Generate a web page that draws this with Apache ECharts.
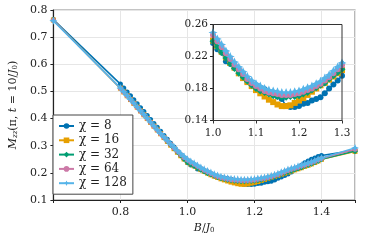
<!DOCTYPE html>
<html><head><meta charset="utf-8">
<script src="https://cdn.jsdelivr.net/npm/echarts@6/dist/echarts.min.js"></script>
<style>html,body{margin:0;padding:0;background:#fff}#c{width:366px;height:244px}</style>
</head><body><div id="c"></div>
<script>
const B = [0.6,
 0.80,0.81,0.82,0.83,0.84,0.85,0.86,0.87,0.88,0.89,0.90,0.91,0.92,0.93,0.94,0.95,0.96,0.97,0.98,0.99,1.00,
 1.01,1.02,1.03,1.04,1.05,1.06,1.07,1.08,1.09,1.10,1.11,1.12,1.13,1.14,1.15,1.16,1.17,1.18,1.19,1.20,
 1.21,1.22,1.23,1.24,1.25,1.26,1.27,1.28,1.29,1.30,
 1.31,1.32,1.33,1.34,1.35,1.36,1.37,1.38,1.39,1.40, 1.5];
const chi8 = [0.765,
 0.527,0.513,0.498,0.484,0.469,0.455,0.440,0.426,0.411,0.397,0.382,0.368,0.353,0.338,0.324,0.309,0.295,0.280,0.266,0.251,0.237,
 0.229,0.225,0.214,0.211,0.206,0.203,0.198,0.188,0.186,0.184,0.181,0.179,0.176,0.173,0.170,0.167,0.158,0.157,0.157,0.158,
 0.161,0.162,0.165,0.167,0.169,0.174,0.180,0.185,0.190,0.196,
 0.203,0.211,0.219,0.228,0.237,0.244,0.250,0.255,0.260,0.264, 0.283];
const chi16 = [0.763,
 0.512,0.498,0.484,0.470,0.456,0.442,0.428,0.414,0.400,0.386,0.372,0.358,0.344,0.330,0.316,0.302,0.289,0.276,0.263,0.251,0.240,
 0.233,0.226,0.219,0.212,0.206,0.199,0.193,0.188,0.183,0.178,0.174,0.170,0.166,0.163,0.160,0.158,0.158,0.159,0.162,0.165,
 0.168,0.172,0.176,0.180,0.184,0.187,0.191,0.195,0.199,0.203,
 0.207,0.211,0.215,0.219,0.224,0.228,0.233,0.238,0.244,0.250, 0.279];
const chi32 = [0.762,
 0.512,0.498,0.484,0.470,0.456,0.442,0.428,0.414,0.400,0.386,0.372,0.358,0.344,0.330,0.316,0.303,0.290,0.277,0.264,0.251,0.239,
 0.232,0.225,0.218,0.211,0.205,0.199,0.194,0.189,0.184,0.180,0.177,0.175,0.173,0.171,0.170,0.169,0.169,0.170,0.170,0.171,
 0.173,0.175,0.178,0.181,0.184,0.187,0.192,0.196,0.200,0.204,
 0.208,0.212,0.216,0.220,0.225,0.229,0.234,0.239,0.244,0.250, 0.280];
const chi64 = [0.762,
 0.512,0.498,0.484,0.470,0.456,0.442,0.428,0.414,0.400,0.386,0.372,0.358,0.344,0.331,0.318,0.305,0.292,0.280,0.268,0.257,0.247,
 0.239,0.232,0.224,0.217,0.210,0.204,0.198,0.192,0.187,0.183,0.180,0.177,0.175,0.174,0.173,0.172,0.172,0.172,0.173,0.174,
 0.176,0.178,0.180,0.183,0.186,0.190,0.194,0.199,0.204,0.209,
 0.213,0.217,0.221,0.225,0.229,0.234,0.238,0.243,0.248,0.253, 0.287];
const chi128 = [0.760,
 0.513,0.499,0.485,0.471,0.457,0.443,0.429,0.415,0.401,0.387,0.373,0.359,0.345,0.332,0.319,0.306,0.294,0.282,0.271,0.260,0.250,
 0.242,0.235,0.227,0.220,0.213,0.207,0.201,0.195,0.190,0.186,0.183,0.180,0.178,0.177,0.176,0.175,0.175,0.175,0.176,0.177,
 0.179,0.181,0.183,0.186,0.189,0.193,0.197,0.202,0.207,0.212,
 0.216,0.220,0.224,0.228,0.232,0.236,0.240,0.245,0.250,0.255, 0.292];
const names = ['χ = 8','χ = 16','χ = 32','χ = 64','χ = 128'];
const mainXTicks = [0.8, 1.0, 1.2, 1.4];
const mainYTicks = [0.1,0.2,0.3,0.4,0.5,0.6,0.7,0.8];
const insetXTicks = [1.0,1.1,1.2,1.3];
const insetYTicks = [0.14,0.18,0.22,0.26];

const colors = ['#0072B2','#E69F00','#009E73','#CC79A7','#56B4E9'];
const symbols = ['circle','rect','diamond','circle','path://M0,-10 L3,-3 L10,0 L3,3 L0,10 L-3,3 L-10,0 L-3,-3 Z'];
const sizes = [5,5,6,5,8];
const allData = [chi8,chi16,chi32,chi64,chi128];
const FF = 'DejaVu Serif';

const series = [];
[0,1].forEach(gi => {
  allData.forEach((arr, k) => {
    series.push({
      name: names[k], type: 'line', xAxisIndex: gi, yAxisIndex: gi,
      data: B.map((b, i) => [b, arr[i]]),
      symbol: symbols[k], symbolSize: gi === 0 ? sizes[k] : sizes[k] + 1,
      showAllSymbol: true, clip: true, z: 2 + k, animation: false,
      lineStyle: {color: colors[k], width: 1.5},
      itemStyle: {color: colors[k]}
    });
  });
});

const near = (v, arr) => arr.some(t => Math.abs(t - v) < 1e-6);
const chart = echarts.init(document.getElementById('c'), null, {renderer: 'canvas'});
chart.setOption({
  animation: false,
  textStyle: {fontFamily: FF},
  grid: [
    {left: 47, right: 11, top: 10, bottom: 44, show: true, borderColor: '#8a8a8a', borderWidth: 1.2, backgroundColor: 'transparent'},
    {left: 213, right: 24, top: 24.5, bottom: 123.5, show: true, borderColor: '#333', borderWidth: 1, backgroundColor: 'transparent', z: 10}
  ],
  legend: {
    left: 53, top: 115, orient: 'vertical', itemWidth: 15, itemHeight: 7, itemGap: 0.3,
    padding: [4, 6, 4, 5], backgroundColor: '#fff', borderColor: '#444', borderWidth: 1,
    textStyle: {fontFamily: FF, fontSize: 12, color: '#222', lineHeight: 14},
    data: names
  },
  xAxis: [
    {type: 'value', gridIndex: 0, min: 0.6, max: 1.5, interval: 0.2,
     axisLine: {lineStyle: {color: '#222', width: 1.2}},
     axisTick: {length: 3, lineStyle: {color: '#222'}},
     axisLabel: {fontFamily: FF, fontSize: 11, color: '#222', margin: 7,
       formatter: v => near(v, mainXTicks) ? v.toFixed(1) : ''},
     splitLine: {show: true, lineStyle: {color: '#e6e6e6', width: 1}},
     name: '{i|B}/{i|J}{s|0}', nameLocation: 'middle', nameGap: 22,
     nameTextStyle: {fontFamily: FF, fontSize: 11, color: '#222',
       rich: {i: {fontStyle: 'italic', fontFamily: FF, fontSize: 11}, s: {fontFamily: FF, fontSize: 7, verticalAlign: 'bottom', lineHeight: 8}}}
    },
    {type: 'value', gridIndex: 1, min: 1.0, max: 1.3, interval: 0.1,
     axisLine: {lineStyle: {color: '#555', width: 1}},
     axisTick: {length: 3, lineStyle: {color: '#333'}},
     axisLabel: {fontFamily: FF, fontSize: 10.5, color: '#222', margin: 7,
       formatter: v => near(v, insetXTicks) ? v.toFixed(1) : ''},
     splitLine: {show: false}
    }
  ],
  yAxis: [
    {type: 'value', gridIndex: 0, min: 0.1, max: 0.8, interval: 0.1,
     axisLine: {show: true, lineStyle: {color: '#222', width: 1.2}},
     axisTick: {show: true, length: 3, lineStyle: {color: '#222'}},
     axisLabel: {fontFamily: FF, fontSize: 11, color: '#222', margin: 6,
       formatter: v => near(v, mainYTicks) ? v.toFixed(1) : ''},
     splitLine: {show: true, lineStyle: {color: '#e6e6e6', width: 1}},
     name: '{i|M}{si|zz}(π, {i|t} = 10/{i|J}{s|0})', nameLocation: 'middle', nameGap: 26,
     nameTextStyle: {fontFamily: FF, fontSize: 11, color: '#222',
       rich: {i: {fontStyle: 'italic', fontFamily: FF, fontSize: 11},
              si: {fontStyle: 'italic', fontFamily: FF, fontSize: 7, verticalAlign: 'bottom', lineHeight: 8},
              s: {fontFamily: FF, fontSize: 7, verticalAlign: 'bottom', lineHeight: 8}}}
    },
    {type: 'value', gridIndex: 1, min: 0.14, max: 0.26, interval: 0.04,
     axisLine: {show: true, lineStyle: {color: '#222', width: 1}},
     axisTick: {show: true, length: 3, lineStyle: {color: '#222'}},
     axisLabel: {fontFamily: FF, fontSize: 10.5, color: '#222', margin: 5,
       formatter: v => near(v, insetYTicks) ? v.toFixed(2) : ''},
     splitLine: {show: false}
    }
  ],
  series: series
});
</script></body></html>
